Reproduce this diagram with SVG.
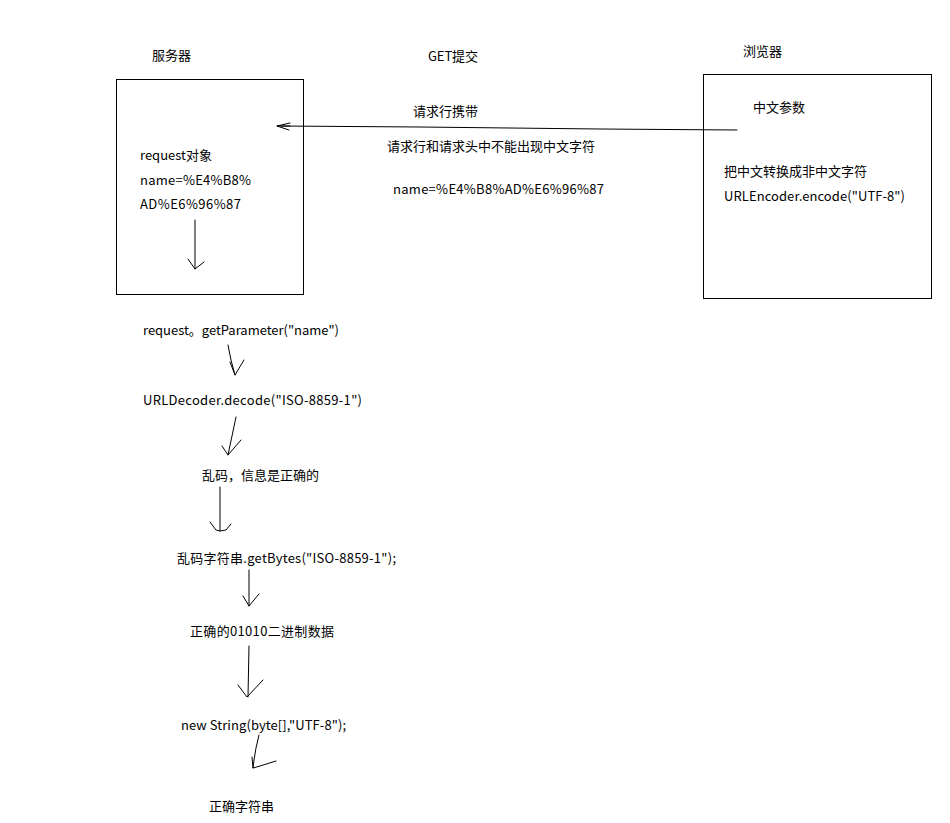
<svg xmlns="http://www.w3.org/2000/svg" width="950" height="823" viewBox="0 0 950 823">
<style>
text{font-family:"Noto Sans CJK SC","Noto Sans",sans-serif;font-size:13px;fill:#000}
.box{fill:none;stroke:#000;stroke-width:1}
.c{fill:none;stroke:#000;stroke-width:1;stroke-linejoin:round;stroke-linecap:round}
</style>
<rect width="950" height="823" fill="#fff"/>
<text x="152" y="60">服务器</text>
<text x="428" y="61" textLength="50">GET提交</text>
<text x="743" y="56">浏览器</text>
<g id="server">
<rect class="box" x="116.5" y="79.5" width="187" height="215"/>
<text x="140" y="160" textLength="72">request对象</text>
<text x="140" y="185" textLength="111">name=%E4%B8%</text>
<text x="140" y="209" textLength="101">AD%E6%96%87</text>
</g>
<g id="browser">
<rect class="box" x="703.5" y="74.5" width="228" height="224"/>
<text x="753" y="112">中文参数</text>
<text x="724" y="176">把中文转换成非中文字符</text>
<text x="724" y="201" textLength="181">URLEncoder.encode("UTF-8")</text>
</g>
<g id="labels">
<text x="413" y="116">请求行携带</text>
<text x="387" y="151">请求行和请求头中不能出现中文字符</text>
<text x="393" y="194" textLength="211">name=%E4%B8%AD%E6%96%87</text>
</g>
<g id="steps">
<text id="s1" x="143" y="335" textLength="196">request。getParameter("name")</text>
<text id="s2" x="143" y="405" textLength="219">URLDecoder.decode("ISO-8859-1")</text>
<text id="s3" x="202" y="480">乱码，信息是正确的</text>
<text id="s4" x="177" y="563" textLength="219">乱码字符串.getBytes("ISO-8859-1");</text>
<text id="s5" x="190" y="636" textLength="144">正确的01010二进制数据</text>
<text id="s6" x="181" y="730" textLength="165">new String(byte[],"UTF-8");</text>
<text id="s7" x="209" y="811">正确字符串</text>
</g>
<g id="connectors">
<path class="c" d="M737,130 L600,129 L510,128 L420,127 L277,126 M290,123 L277,126 L289,130 M281,126 L290,126"/>
<path class="c" d="M195,220 L195,269 M188,259 L195,269 L204,262"/>
<path class="c" d="M228,345 L231,360 L235,375 M230,362 L235,375 L244,360"/>
<path class="c" d="M236,417 L232,436 L228,455 M222,446 L228,455 L241,440"/>
<path class="c" d="M220,487 L220,531 M210,522 L216,530 L220,531 L226,530 L231,524"/>
<path class="c" d="M249,570 L249,606 M243,596 L249,606 L259,594"/>
<path class="c" d="M249,646 L248,697 M238,685 L247,697 L263,680"/>
<path class="c" d="M259,735 L256,748 L254,760 L253,768 L260,766 L276,761 M252,757 L253,768"/>
</g>
</svg>
